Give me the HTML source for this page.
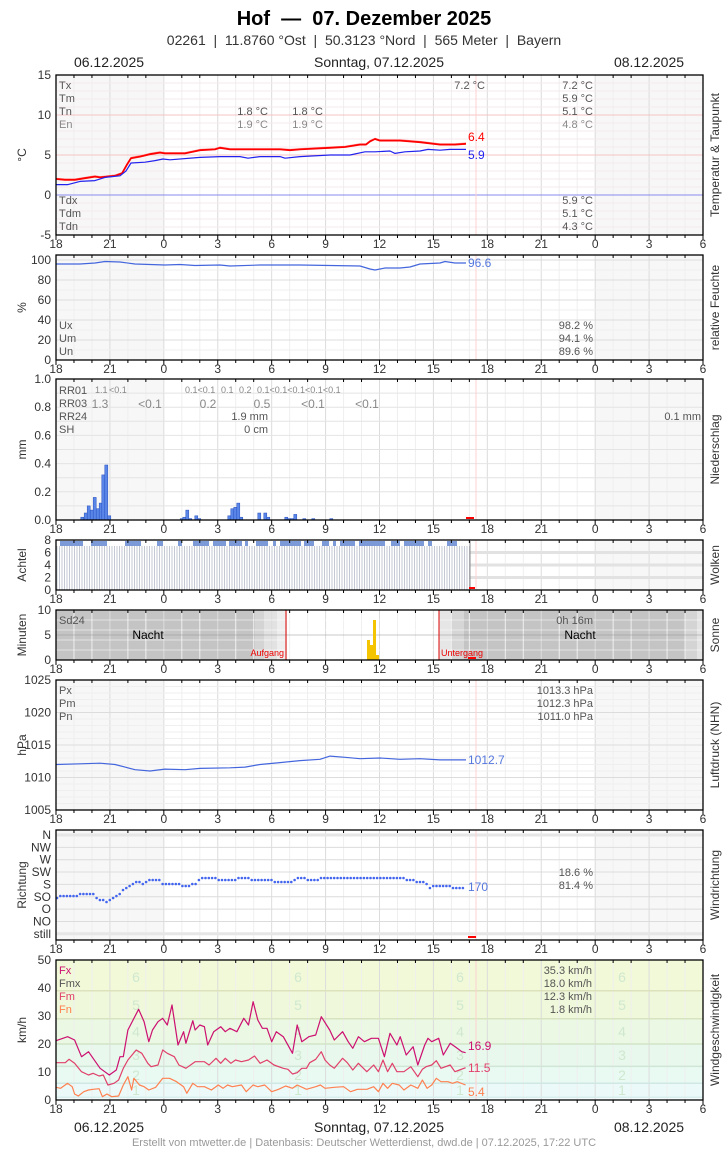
<!DOCTYPE html>
<html><head><meta charset="utf-8">
<style>
body{margin:0;background:#fff;width:728px;height:1150px;overflow:hidden}
svg{display:block;font-family:"Liberation Sans",sans-serif}
</style></head><body>
<svg id="s" width="728" height="1150" xmlns="http://www.w3.org/2000/svg">
<text x="364" y="25" font-size="20" font-weight="bold" text-anchor="middle" fill="#000">Hof&#160;&#160;—&#160;&#160;07. Dezember 2025</text>
<text x="364" y="45" font-size="14" text-anchor="middle" fill="#333">02261&#160;&#160;|&#160;&#160;11.8760 °Ost&#160;&#160;|&#160;&#160;50.3123 °Nord&#160;&#160;|&#160;&#160;565 Meter&#160;&#160;|&#160;&#160;Bayern</text>
<text x="109" y="67" font-size="14" text-anchor="middle" fill="#222">06.12.2025</text>
<text x="379" y="67" font-size="14" text-anchor="middle" fill="#222">Sonntag, 07.12.2025</text>
<text x="649" y="67" font-size="14" text-anchor="middle" fill="#222">08.12.2025</text>
<text x="109" y="1132" font-size="14" text-anchor="middle" fill="#222">06.12.2025</text>
<text x="379" y="1132" font-size="14" text-anchor="middle" fill="#222">Sonntag, 07.12.2025</text>
<text x="649" y="1132" font-size="14" text-anchor="middle" fill="#222">08.12.2025</text>
<text x="364" y="1146" font-size="11" text-anchor="middle" fill="#999">Erstellt von mtwetter.de | Datenbasis: Deutscher Wetterdienst, dwd.de | 07.12.2025, 17:22 UTC</text>
<g id="g"></g>
</svg>
<script>
var g=document.getElementById('g'),h='';
var L=56,R=703,PH=(R-L)/36;
function X(hr){return L+hr*PH}
function t(x,y,s,o){o=o||{};h+='<text x="'+x+'" y="'+y+'" font-size="'+(o.fs||11)+'" fill="'+(o.c||'#555')+'" text-anchor="'+(o.a||'start')+'"'+(o.tr?' transform="'+o.tr+'"':'')+'>'+s+'</text>';}
function ln(x1,y1,x2,y2,c,w){h+='<line x1="'+x1+'" y1="'+y1+'" x2="'+x2+'" y2="'+y2+'" stroke="'+c+'" stroke-width="'+(w||1)+'"/>';}
function rc(x,y,w,hh,c){h+='<rect x="'+x+'" y="'+y+'" width="'+w+'" height="'+hh+'" fill="'+c+'"/>';}
function pl(pts,c,w){h+='<polyline fill="none" stroke="'+c+'" stroke-width="'+(w||1)+'" stroke-linejoin="round" points="'+pts.map(function(p){return p[0].toFixed(1)+','+p[1].toFixed(1)}).join(' ')+'"/>';}
var labs=['18','21','0','3','6','9','12','15','18','21','0','3','6'];
function panel(top,bot,opt){
  opt=opt||{};
  if(!opt.noshade){rc(L,top,X(6)-L,bot-top,'#f7f7f7');rc(X(30),top,R-X(30),bot-top,'#f7f7f7');}
  if(opt.bg)opt.bg();
  for(var i=0;i<=36;i++){var x=X(i);ln(x,top,x,bot,i%3==0?'#dcdcdc':'#efefef',1);}
  if(opt.hg)opt.hg();
  if(!opt.nonow)ln(476,top,476,bot,'#ffd0d0',1);
}
function frame(top,bot,ylab,rlab){
  h+='<rect x="'+L+'" y="'+top+'" width="'+(R-L)+'" height="'+(bot-top)+'" fill="none" stroke="#000" stroke-width="1.3"/>';
  for(var i=0;i<=36;i++){var x=X(i);ln(x,bot,x,bot+(i%3==0?5:3),'#000',1);ln(x,top,x,top+(i%3==0?0:3),'#000',1);}
  for(var i=0;i<13;i++)t(X(i*3),bot+13,labs[i],{fs:12,c:'#333',a:'middle'});
  var cy=(top+bot)/2;
  t(26,cy,ylab,{fs:12,c:'#333',a:'middle',tr:'rotate(-90 26 '+cy+')'});
  t(719,cy,rlab,{fs:12,c:'#333',a:'middle',tr:'rotate(-90 719 '+cy+')'});
}
function yl(y,s){t(51,y+4,s,{fs:12,c:'#333',a:'end'});}

var Ty=function(v){return 195-8*v};
panel(75,235,{hg:function(){for(var v=-4;v<15;v++){ln(L,Ty(v),R,Ty(v),(v==5||v==10)?'#f5c4c4':'#f6e8ee',1);} ln(L,195,R,195,'#8888ee',1);}});
var red=[[56,2.0],[65,1.9],[75,1.9],[85,2.1],[95,2.3],[100,2.2],[115,2.4],[122,2.7],[127,3.8],[131,4.6],[140,4.8],[150,5.1],[160,5.3],[165,5.2],[185,5.2],[200,5.6],[215,5.7],[220,5.9],[230,5.7],[260,5.7],[280,5.7],[290,5.6],[300,5.7],[330,5.9],[345,6.0],[360,6.3],[366,6.3],[370,6.7],[375,7.0],[380,6.8],[400,6.8],[420,6.6],[440,6.3],[455,6.3],[466,6.4]];
var blue=[[56,1.3],[68,1.3],[80,1.7],[95,1.8],[105,2.2],[120,2.4],[126,3.0],[131,4.0],[145,4.1],[155,4.3],[163,4.5],[170,4.4],[200,4.7],[220,4.8],[240,4.8],[248,4.6],[260,4.8],[280,4.8],[285,4.6],[300,4.8],[330,5.0],[350,5.0],[365,5.4],[375,5.4],[390,5.5],[395,5.2],[405,5.4],[420,5.5],[428,5.7],[440,5.6],[450,5.7],[466,5.7]];
pl(red.map(function(p){return [p[0],Ty(p[1])-0.8]}),'#ff9090',1);
pl(red.map(function(p){return [p[0],Ty(p[1])]}),'#ff0000',1.8);
pl(blue.map(function(p){return [p[0],Ty(p[1])]}),'#2222ee',1.2);
t(468,141,'6.4',{fs:12,c:'#ff0000'});t(468,159,'5.9',{fs:12,c:'#2222ee'});
t(59,89,'Tx');t(59,102,'Tm');t(59,115,'Tn');t(59,128,'En',{c:'#888'});
t(268,115,'1.8 °C',{a:'end'});t(323,115,'1.8 °C',{a:'end'});
t(268,128,'1.9 °C',{a:'end',c:'#888'});t(323,128,'1.9 °C',{a:'end',c:'#888'});
t(485,89,'7.2 °C',{a:'end'});
t(593,89,'7.2 °C',{a:'end'});t(593,102,'5.9 °C',{a:'end'});t(593,115,'5.1 °C',{a:'end'});t(593,128,'4.8 °C',{a:'end',c:'#888'});
t(59,204,'Tdx');t(59,217,'Tdm');t(59,230,'Tdn');
t(593,204,'5.9 °C',{a:'end'});t(593,217,'5.1 °C',{a:'end'});t(593,230,'4.3 °C',{a:'end'});
frame(75,235,'°C','Temperatur &amp; Taupunkt');
[15,10,5,0,-5].forEach(function(v){yl(Ty(v),v)});

var Hy=function(v){return 360-v};
panel(255,360,{hg:function(){for(var v=10;v<=100;v+=10)ln(L,Hy(v),R,Hy(v),v%20==0?'#dcdcdc':'#efefef',1);}});
pl([[56,264],[80,264],[95,263],[105,261.5],[120,262],[135,264],[165,265],[180,264.5],[195,265.5],[220,265],[230,266],[260,265],[300,265],[330,265.5],[360,266],[370,269],[375,270],[385,268],[400,268],[410,267],[420,264],[440,263],[445,261.5],[455,263],[466,263]],'#4466dd',1.2);
t(468,267,'96.6',{fs:12,c:'#5577dd'});
t(59,329,'Ux');t(59,342,'Um');t(59,355,'Un');
t(593,329,'98.2 %',{a:'end'});t(593,342,'94.1 %',{a:'end'});t(593,355,'89.6 %',{a:'end'});
frame(255,360,'%','relative Feuchte');
[100,80,60,40,20,0].forEach(function(v){yl(Hy(v),v)});

var Py=function(v){return 520-141*v};
panel(379,520,{hg:function(){for(var v=0.1;v<1;v+=0.1)ln(L,Py(v),R,Py(v),'#e4e4e4',1);}});
var bars=[[127,.02],[137,.05],[146,.1],[155,.07],[164,.16],[173,.08],[182,.12],[190,.32],[199,.39],[208,.03],[425,.01],[433,.02],[442,.07],[451,.01],[469,.03],[478,.01],[568,.03],[577,.08],[586,.09],[595,.12],[604,.02],[658,.05],[676,.05],[685,.02],[739,.02],[748,.01],[757,.01],[766,.04],[793,.01],[820,.01],[874,.01]];
bars.forEach(function(b){var x=b[0]/3+40-1.5;h+='<rect x="'+x.toFixed(1)+'" y="'+Py(b[1]).toFixed(1)+'" width="3" height="'+(141*b[1]).toFixed(1)+'" fill="#5a86e8" stroke="#2850c0" stroke-width="0.5"/>';});
rc(466,517,8,2,'#ff0000');
t(59,394,'RR01');t(59,407,'RR03');t(59,420,'RR24');t(59,433,'SH');
t(95,393,'1.1',{fs:9,c:'#888'});t(109,393,'&lt;0.1',{fs:9,c:'#888'});
t(185,393,'0.1&lt;0.1',{fs:9,c:'#888'});t(221,393,'0.1',{fs:9,c:'#888'});t(239,393,'0.2',{fs:9,c:'#888'});t(257,393,'0.1&lt;0.1&lt;0.1&lt;0.1&lt;0.1',{fs:9,c:'#888'});
t(100,408,'1.3',{fs:12,c:'#888',a:'middle'});t(150,408,'&lt;0.1',{fs:12,c:'#888',a:'middle'});t(208,408,'0.2',{fs:12,c:'#888',a:'middle'});t(262,408,'0.5',{fs:12,c:'#888',a:'middle'});t(313,408,'&lt;0.1',{fs:12,c:'#888',a:'middle'});t(367,408,'&lt;0.1',{fs:12,c:'#888',a:'middle'});
t(268,420,'1.9 mm',{a:'end'});t(268,433,'0 cm',{a:'end'});t(701,420,'0.1 mm',{a:'end'});
frame(379,520,'mm','Niederschlag');
[1.0,0.8,0.6,0.4,0.2,0.0].forEach(function(v){yl(Py(v),v.toFixed(1))});

var Cy=function(v){return 590-6.25*v};
panel(540,590,{hg:function(){[2,4,6].forEach(function(v){ln(L,Cy(v),R,Cy(v),'#e2e2e2',3);});}});
rc(56,541,414,49,'#fff');
for(var x=57;x<470;x+=2.5)ln(x,546,x,590,'#aab0c0',0.7);
[[60,83],[91,107],[125,141],[157,163],[178,182],[193,209],[213,226],[229,242],[245,248],[256,268],[273,276],[280,301],[304,314],[322,329],[333,336],[340,355],[359,385],[391,400],[404,424],[428,432],[447,457]].forEach(function(s){rc(s[0],541,s[1]-s[0],5,'#7c9ad8');});
ln(470,541,470,590,'#888',1);
rc(469,587,6,2,'#ff0000');
frame(540,590,'Achtel','Wolken');
[8,6,4,2,0].forEach(function(v){yl(Cy(v),v)});

var Sy=function(v){return 660-5*v};
panel(610,660,{noshade:1,nonow:1,bg:function(){
 rc(56,610,647,50,'#fff');
 rc(56,610,199,50,'#c4c4c4');rc(255,610,9,50,'#d4d4d4');rc(264,610,13,50,'#e2e2e2');rc(277,610,10,50,'#eeeeee');
 rc(439,610,12,50,'#e6e6e6');rc(451,610,13,50,'#d6d6d6');rc(464,610,221,50,'#c4c4c4');rc(685,610,12,50,'#d4d4d4');rc(697,610,6,50,'#e4e4e4');
},hg:function(){[2,4,6,8].forEach(function(v){ln(L,Sy(v),R,Sy(v),'rgba(255,255,255,0.5)',1);});ln(L,Sy(5),R,Sy(5),'rgba(150,150,150,0.5)',1);}});
ln(286,610,286,660,'#dd0000',1);ln(439,610,439,660,'#dd0000',1);
rc(367,640,3,20,'#f5c400');rc(370,645,3,15,'#f5c400');rc(373,620,3,40,'#f5c400');rc(376,655,3,5,'#f5c400');
rc(468,657,8,2,'#ff0000');
t(59,624,'Sd24');t(593,624,'0h 16m',{a:'end'});
t(148,639,'Nacht',{fs:12,c:'#000',a:'middle'});t(580,639,'Nacht',{fs:12,c:'#000',a:'middle'});
t(284,656,'Aufgang',{fs:9,c:'#e00',a:'end'});t(441,656,'Untergang',{fs:9,c:'#e00'});
frame(610,660,'Minuten','Sonne');
[10,5,0].forEach(function(v){yl(Sy(v),v)});

var Py2=function(v){return 680+6.5*(1025-v)};
panel(680,810,{hg:function(){for(var v=1006;v<1025;v++)ln(L,Py2(v),R,Py2(v),v%5==0?'#dcdcdc':'#efefef',1);}});
pl([[56,1012.0],[80,1012.1],[100,1012.2],[115,1012.0],[125,1011.6],[135,1011.2],[150,1011.0],[165,1011.3],[185,1011.2],[200,1011.4],[230,1011.5],[245,1011.6],[260,1012.0],[280,1012.3],[300,1012.6],[320,1012.8],[330,1013.3],[345,1013.1],[360,1012.9],[380,1013.0],[400,1012.8],[420,1012.9],[440,1012.7],[466,1012.7]].map(function(p){return [p[0],Py2(p[1])]}),'#4466dd',1.2);
t(468,764,'1012.7',{fs:12,c:'#5577dd'});
t(59,694,'Px');t(59,707,'Pm');t(59,720,'Pn');
t(593,694,'1013.3 hPa',{a:'end'});t(593,707,'1012.3 hPa',{a:'end'});t(593,720,'1011.0 hPa',{a:'end'});
frame(680,810,'hPa','Luftdruck (NHN)');
[1025,1020,1015,1010,1005].forEach(function(v){yl(Py2(v),v)});

var dl=['N','NW','W','SW','S','SO','O','NO','still'];
var Dy=function(i){return 835+i*12.35};
panel(830,940,{hg:function(){for(var i=0;i<9;i++)ln(L,Dy(i),R,Dy(i),(i==0||i==8)?'#e6e6e6':'#dcdcdc',i==0||i==8?3:1);}});
var dc=[[56,898],[62,896],[70,895],[78,896],[82,893],[95,895],[98,901],[105,900],[108,902],[118,896],[122,890],[128,886],[135,882],[145,884],[150,879],[158,879],[163,884],[180,884],[185,887],[195,884],[200,880],[205,877],[218,879],[235,880],[242,877],[255,880],[290,882],[300,878],[315,881],[320,879],[330,877],[360,878],[380,878],[400,877],[410,880],[425,883],[430,888],[438,885],[450,887],[455,889],[466,887]];
function interp(x){for(var i=1;i<dc.length;i++){if(x<=dc[i][0]){var a=dc[i-1],b=dc[i];return a[1]+(b[1]-a[1])*(x-a[0])/(b[0]-a[0]);}}return dc[dc.length-1][1];}
for(var x=57;x<=466;x+=3.3){var y=Math.round(interp(x)/2)*2;h+='<circle cx="'+x.toFixed(1)+'" cy="'+y+'" r="1.3" fill="#4466ee"/>';}
t(468,891,'170',{fs:12,c:'#5577dd'});
rc(468,936,8,2,'#ff0000');
t(593,876,'18.6 %',{a:'end'});t(593,889,'81.4 %',{a:'end'});
frame(830,940,'Richtung','Windrichtung');
for(var i=0;i<9;i++)yl(Dy(i),dl[i]);

var Wy=function(v){return 1100-2.8*v};
panel(960,1100,{noshade:1,bg:function(){
 var bands=[[0,1,'#f3fbfb'],[1,6,'#ebfaf8'],[6,12,'#e9faf3'],[12,20,'#e9f8ec'],[20,29,'#ebf8e3'],[29,39,'#eff8da'],[39,50,'#f2f9d8']];
 bands.forEach(function(b){rc(L,Wy(b[1]),R-L,Wy(b[0])-Wy(b[1]),b[2]);});
},hg:function(){
 [[1,'#d8eeee'],[6,'#cfe8e4'],[12,'#cfe6d6'],[20,'#d2e4c8'],[29,'#d8e4c0'],[39,'#dde2bd']].forEach(function(b){ln(L,Wy(b[0]),R,Wy(b[0]),b[1],1.5);});
 var bf=[[1,3.5],[2,9],[3,16],[4,24.5],[5,34],[6,44]];
 [136,298,460,622].forEach(function(x){bf.forEach(function(b){t(x,Wy(b[1])+5,b[0],{fs:14,c:'#cfe8cf',a:'middle'});});});
}});
function zp(arr){return arr.map(function(p){return [56+(p[0]-120)/2.156,950+p[1]/3]});}
var fx=[[120,272],[145,260],[160,270],[175,320],[190,305],[200,325],[215,355],[235,375],[250,360],[258,320],[265,320],[275,240],[298,178],[310,215],[320,275],[328,240],[340,215],[350,205],[360,225],[370,165],[383,285],[395,245],[400,280],[415,212],[420,240],[430,225],[440,230],[447,285],[460,245],[475,230],[485,245],[495,235],[510,245],[525,205],[535,225],[545,155],[555,210],[565,235],[575,235],[585,275],[595,245],[610,260],[630,310],[640,225],[650,275],[665,260],[680,255],[692,200],[710,240],[720,270],[738,245],[750,275],[760,295],[772,260],[785,275],[800,265],[815,265],[828,320],[840,250],[855,285],[862,260],[875,315],[890,290],[900,345],[915,285],[922,265],[930,275],[945,265],[955,315],[970,280],[985,295],[995,305],[1003,308]];
var fm=[[120,338],[140,338],[148,328],[160,340],[175,365],[190,375],[200,370],[213,378],[222,375],[232,405],[245,400],[255,390],[265,355],[275,330],[293,300],[305,310],[318,340],[325,350],[340,345],[350,300],[360,310],[375,320],[385,345],[400,355],[420,335],[440,335],[450,345],[465,325],[475,340],[485,325],[497,340],[507,330],[520,335],[535,330],[548,318],[560,340],[575,330],[590,345],[610,355],[620,358],[630,372],[640,368],[650,355],[660,355],[667,338],[680,328],[692,305],[700,330],[710,345],[720,355],[738,325],[748,338],[760,360],[772,340],[790,365],[805,345],[815,365],[825,330],[835,365],[845,340],[855,365],[870,365],[885,350],[900,380],[910,358],[918,350],[930,345],[940,332],[950,355],[970,345],[980,365],[990,360],[1003,353]];
var fn=[[120,412],[130,415],[145,400],[155,410],[160,432],[168,438],[180,425],[190,420],[200,418],[213,416],[220,440],[230,432],[240,440],[255,438],[265,405],[275,380],[283,420],[288,385],[300,405],[310,410],[320,420],[335,412],[350,385],[365,385],[380,395],[395,410],[402,430],[415,400],[425,410],[440,410],[455,420],[470,405],[480,415],[490,405],[500,410],[520,405],[530,425],[545,405],[555,410],[570,405],[585,425],[600,418],[615,408],[630,415],[640,405],[660,418],[680,410],[690,405],[700,415],[720,412],[740,410],[755,425],[770,418],[790,418],[805,410],[815,425],[825,400],[835,415],[845,400],[860,405],[870,420],[885,405],[900,415],[910,390],[920,415],[930,405],[940,385],[950,395],[965,395],[975,400],[985,395],[1003,405]];
pl(zp(fn),'#ff8050',1.2);pl(zp(fm),'#e0406a',1.2);pl(zp(fx),'#cc1070',1.2);
t(468,1050,'16.9',{fs:12,c:'#cc1070'});t(468,1072,'11.5',{fs:12,c:'#e0406a'});t(468,1096,'5.4',{fs:12,c:'#ff8050'});
t(59,974,'Fx',{c:'#cc1070'});t(59,987,'Fmx',{c:'#555'});t(59,1000,'Fm',{c:'#e0406a'});t(59,1013,'Fn',{c:'#ff8050'});
t(592,974,'35.3 km/h',{a:'end'});t(592,987,'18.0 km/h',{a:'end'});t(592,1000,'12.3 km/h',{a:'end'});t(592,1013,'1.8 km/h',{a:'end'});
frame(960,1100,'km/h','Windgeschwindigkeit');
[50,40,30,20,10,0].forEach(function(v){yl(Wy(v),v)});

g.innerHTML=h;
</script>
</body></html>
